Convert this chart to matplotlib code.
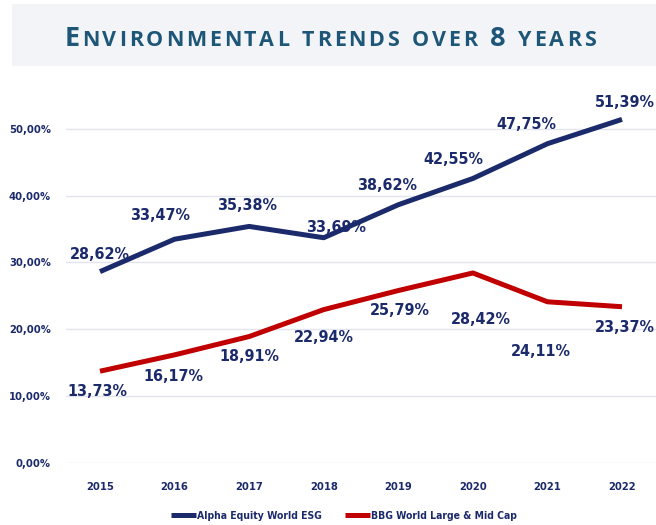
import matplotlib.pyplot as plt
from matplotlib.patches import Rectangle
from matplotlib.ticker import FuncFormatter

years = [2015, 2016, 2017, 2018, 2019, 2020, 2021, 2022]
alpha_esg = [28.62, 33.47, 35.38, 33.69, 38.62, 42.55, 47.75, 51.39]
bbg_world = [13.73, 16.17, 18.91, 22.94, 25.79, 28.42, 24.11, 23.37]

# label offsets in pixels (dx, dy) from each point
alpha_offsets = [(0, 17), (-15, 24), (-2, 21), (12, 10), (-11, 19), (-19, 19), (-21, 19), (3, 17)]
bbg_offsets = [(-3, -20), (-1, -22), (0, -20), (0, -28), (2, -20), (8, -47), (-7, -50), (3, -21)]

navy = "#1b2a6b"
red = "#c00000"
text_col = "#1b2a6b"
title_col = "#1d5677"

plt.rcParams['font.family'] = ['DejaVu Sans']
plt.rcParams['font.stretch'] = 'condensed'

fig = plt.figure(figsize=(6.56, 5.25), dpi=100)
r = fig.canvas.get_renderer()

# title banner
fig.patches.append(Rectangle((12 / 656, 1 - 66 / 525), 1, 62 / 525, transform=fig.transFigure,
                             facecolor="#f2f4f8", edgecolor="none", zorder=0))

# small-caps title, one glyph at a time with extra tracking
title = "Environmental trends over 8 years"
tracking = 2.8
glyphs = []
for ch in title:
    big = ch.isupper() or ch.isdigit()
    t = fig.text(0, 1 - 46 / 525, ch.upper(), fontsize=19.5 if big else 15.5, color=title_col,
                 fontweight="bold", family=["Open Sans", "DejaVu Sans"], stretch="normal",
                 va="baseline", ha="left")
    glyphs.append(t)
widths = []
for t in glyphs:
    if t.get_text() == " ":
        widths.append(7)
    else:
        widths.append(t.get_window_extent(r).width)
total = sum(widths) + tracking * (len(widths) - 1)
x = 330 - total / 2
for t, w in zip(glyphs, widths):
    t.set_x(x / 656)
    x += w + tracking

ax = fig.add_axes([66 / 656, 62 / 525, 590 / 656, 1 - 62 / 525 - 62 / 525])
ax.set_ylim(0, 60 - (129 - 62) / 66.8 * 10 + 10)

ax.plot(years, alpha_esg, color=navy, lw=3.6, solid_capstyle="butt", label="Alpha Equity World ESG", zorder=3)
ax.plot(years, bbg_world, color=red, lw=3.6, solid_capstyle="butt", label="BBG World Large & Mid Cap", zorder=3)

for x, v, (dx, dy) in zip(years, alpha_esg, alpha_offsets):
    ax.annotate(f"{v:.2f}%".replace(".", ","), (x, v), xytext=(dx, dy), textcoords="offset pixels",
                ha="center", va="center", fontsize=11.5, fontweight="bold", color=text_col)
for x, v, (dx, dy) in zip(years, bbg_world, bbg_offsets):
    ax.annotate(f"{v:.2f}%".replace(".", ","), (x, v), xytext=(dx, dy), textcoords="offset pixels",
                ha="center", va="center", fontsize=11.5, fontweight="bold", color=text_col)

ax.set_xlim(2015 - 34 / 74.6, 2022 + 34 / 74.6)
ax.set_xticks(years)
ax.set_yticks([0, 10, 20, 30, 40, 50])
ax.yaxis.set_major_formatter(FuncFormatter(lambda v, p: f"{v:.2f}%".replace(".", ",")))
ax.grid(axis="y", color="#e2e5ed", lw=1)
ax.set_axisbelow(True)
for s in ax.spines.values():
    s.set_visible(False)
ax.tick_params(length=0, labelsize=8, labelcolor=text_col)
ax.tick_params(axis="y", pad=11)
ax.tick_params(axis="x", pad=14)
for lab in ax.get_xticklabels() + ax.get_yticklabels():
    lab.set_fontweight("bold")

leg = ax.legend(loc="lower center", bbox_to_anchor=(0.5 - 17 / 590, -0.155), ncol=2, frameon=False,
                fontsize=7.5, handlelength=2.4, handletextpad=0.1, columnspacing=2.2, borderaxespad=0)
for txt in leg.get_texts():
    txt.set_color(text_col)
    txt.set_fontweight("bold")

fig.savefig("out.png", dpi=100)
